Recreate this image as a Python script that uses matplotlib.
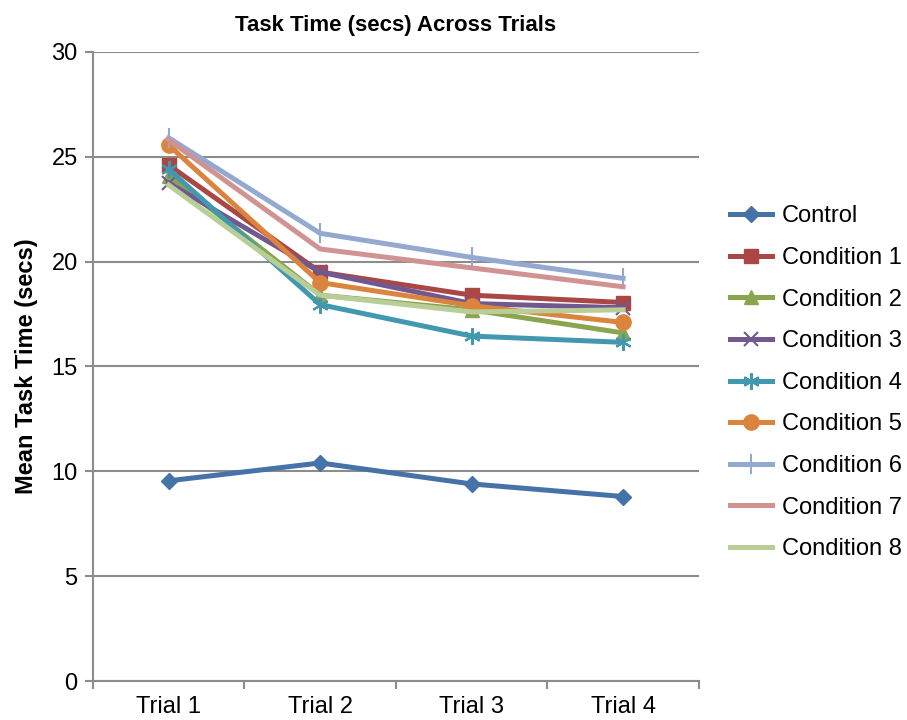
import matplotlib
matplotlib.use("Agg")
import matplotlib.pyplot as plt
import numpy as np

plt.rcParams['font.family'] = ['Liberation Sans', 'DejaVu Sans']

trials = ["Trial 1", "Trial 2", "Trial 3", "Trial 4"]
series_names = ["Control", "Condition 1", "Condition 2", "Condition 3", "Condition 4",
                "Condition 5", "Condition 6", "Condition 7", "Condition 8"]

control = [9.55, 10.4, 9.4, 8.8]
cond1 = [24.6, 19.5, 18.4, 18.05]
cond2 = [24.1, 18.4, 17.7, 16.6]
cond3 = [23.75, 19.5, 18.0, 17.8]
cond4 = [24.4, 17.95, 16.45, 16.15]
cond5 = [25.55, 19.0, 17.9, 17.1]
cond6 = [25.9, 21.35, 20.2, 19.2]
cond7 = [25.8, 20.6, 19.7, 18.8]
cond8 = [23.65, 18.4, 17.6, 17.7]

values = [control, cond1, cond2, cond3, cond4, cond5, cond6, cond7, cond8]
colors = ['#4572A7', '#AA4643', '#89A54E', '#71588F', '#4198AF',
          '#DB843D', '#93A9CF', '#D19392', '#B9CD96']
markers = ['D', 's', '^', 'x', (6, 2, 0), 'o', '|', None, None]
msizes = [8, 10, 10, 10, 12, 11, 14, 0, 0]

fig = plt.figure(figsize=(9.07, 7.2), dpi=100)
ax = fig.add_axes([0.1025, 0.054, 0.668, 0.874])

x = np.arange(len(trials)) + 0.5
for i, vals in enumerate(values):
    mk = markers[i]
    mew = 1.5 if mk in ('x', '|') or isinstance(mk, tuple) else 1
    ax.plot(x, vals, color=colors[i], lw=3.6, marker=mk, ms=msizes[i],
            mew=mew, mec=colors[i], mfc=colors[i], label=series_names[i],
            zorder=3 + i * 0.01)

ax.set_xlim(0, 4)
ax.set_ylim(0, 30)
ax.set_yticks(np.arange(0, 31, 5))
ax.set_xticks(np.arange(0, 5))
ax.set_xticklabels([])
ax.set_xticks(x, minor=True)
ax.set_xticklabels(trials, minor=True)
ax.tick_params(axis='x', which='minor', length=0, pad=11, labelsize=17)
ax.tick_params(axis='x', which='major', length=6, color='#8c8c8c', width=1.5)
ax.tick_params(axis='y', length=6, color='#8c8c8c', width=1.5, labelsize=17, pad=5)

ax.grid(axis='y', color='#8c8c8c', lw=1.5)
ax.set_axisbelow(True)
for s in ['top', 'right']:
    ax.spines[s].set_visible(False)
for s in ['left', 'bottom']:
    ax.spines[s].set_color('#8c8c8c')
    ax.spines[s].set_linewidth(1.5)

ax.set_ylabel("Mean Task Time (secs)", fontsize=17, fontweight='bold', labelpad=10)
ax.set_title("Task Time (secs) Across Trials", fontsize=16, fontweight='bold', pad=15)

leg = ax.legend(loc='center left', bbox_to_anchor=(1.051, 0.474), frameon=False,
                fontsize=17, handlelength=1.78, labelspacing=0.83, handletextpad=0.42,
                borderpad=0, borderaxespad=0)

fig.savefig("out.png", dpi=100)
